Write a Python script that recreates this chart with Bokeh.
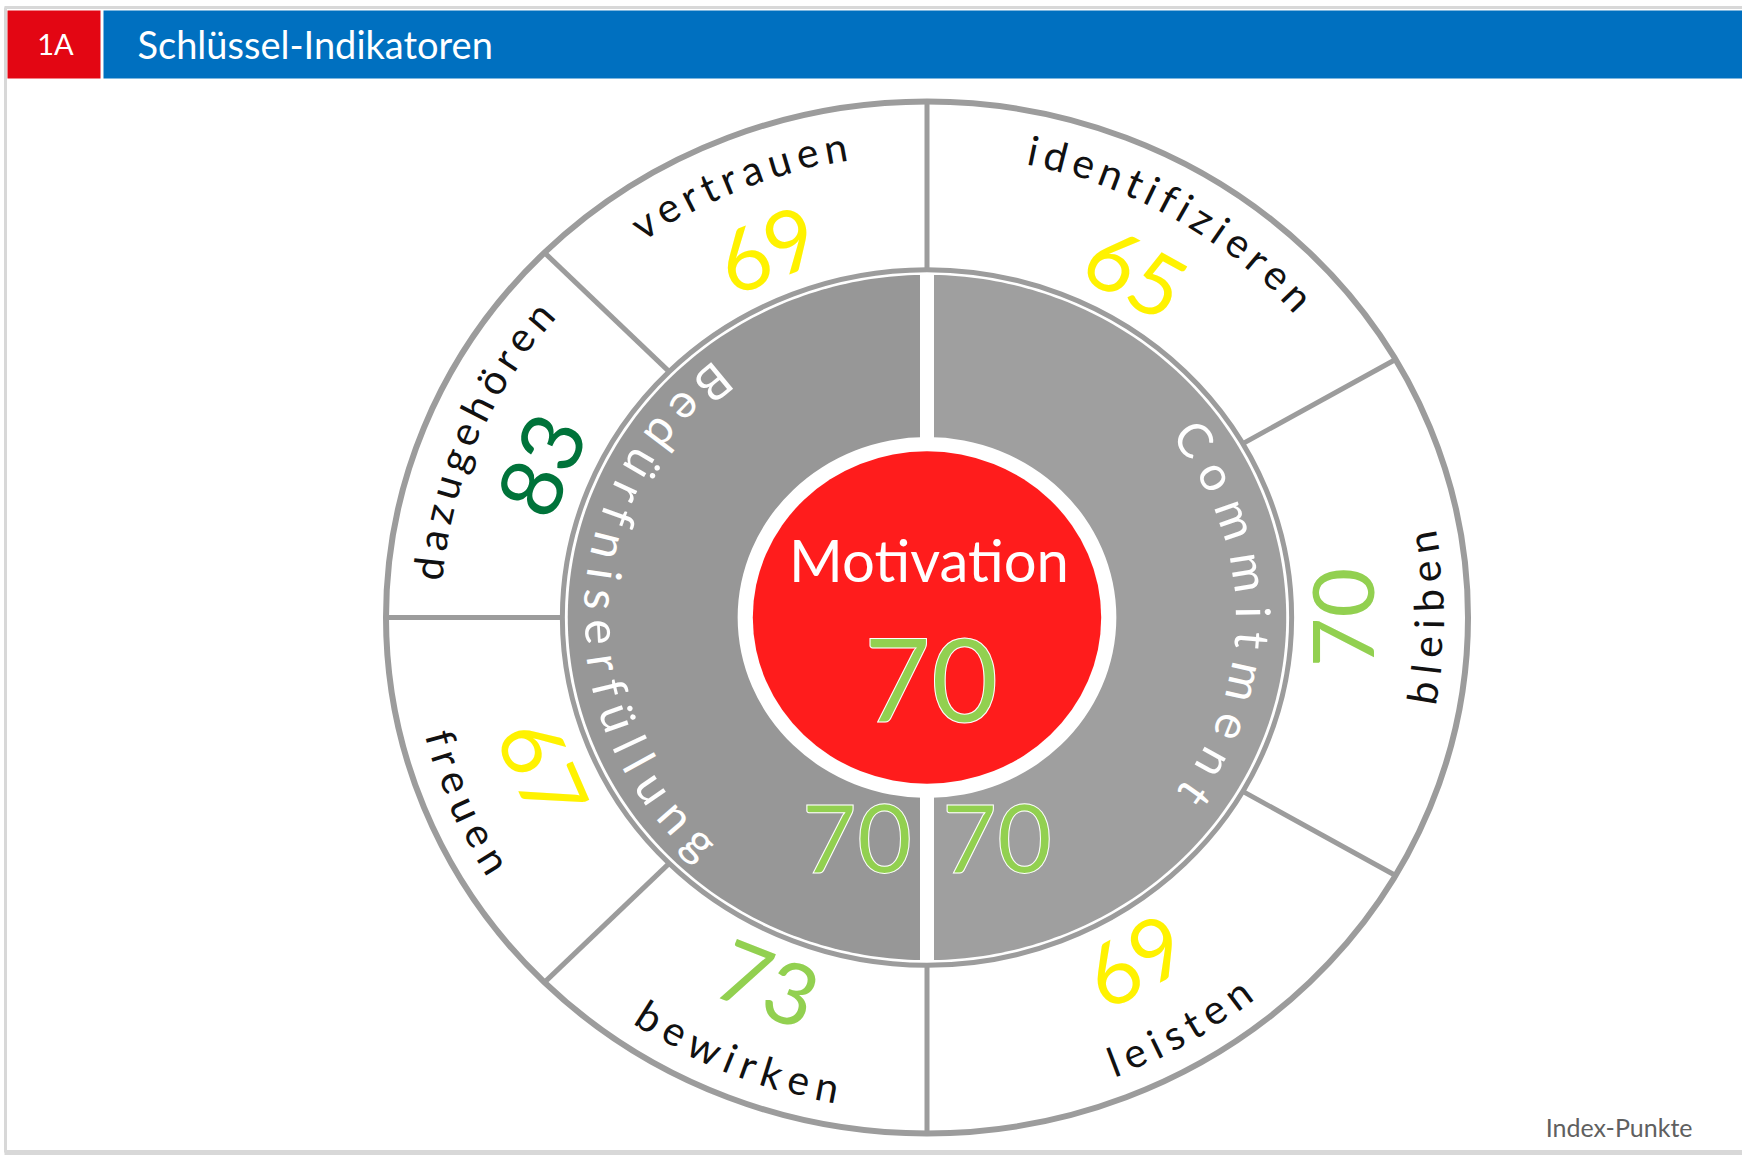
import math
import numpy as np
from bokeh.plotting import figure
from bokeh.models import ColumnDataSource, Range1d
from bokeh.core.properties import value
from bokeh.embed import file_html
from bokeh.resources import INLINE

# ---------------- data ----------------
title_tag = "1A"
title = "Schlüssel-Indikatoren"
center_label = "Motivation"
center_value = 70
groups = ["Bedürfniserfüllung", "Commitment"]
group_values = [70, 70]
left_items = ["vertrauen", "dazugehören", "freuen", "bewirken"]
left_values = [69, 83, 67, 73]
right_items = ["identifizieren", "bleiben", "leisten"]
right_values = [65, 70, 69]
unit_note = "Index-Punkte"

# ---------------- layout ----------------
W, H = 1742, 1164
CX, CY = 926.5, H - 617.0
RX, RY = 541.0, 516.0
FONT = "Lato"
GRAY_LINE = "#9C9C9C"
GRAY_LEFT = "#979797"
GRAY_RIGHT = "#9F9F9F"


def Y(yy):
    return H - yy


def value_color(v):
    if v >= 80:
        return "#00733A"
    if v >= 70:
        return "#92D050"
    return "#FFF200"


def pt(r, deg):
    t = math.radians(deg)
    return CX + r * RX * math.cos(t), CY + r * RY * math.sin(t)


def tangent_angle(deg, ccw):
    t = math.radians(deg)
    if ccw:
        return math.atan2(RY * math.cos(t), -RX * math.sin(t))
    return math.atan2(-RY * math.cos(t), RX * math.sin(t))


CW = {
    'a': .51, 'b': .56, 'c': .46, 'd': .56, 'e': .52, 'f': .32, 'g': .50, 'h': .56,
    'i': .24, 'k': .50, 'l': .24, 'm': .84, 'n': .56, 'o': .56, 'r': .36, 's': .42,
    't': .34, 'u': .56, 'v': .50, 'w': .78, 'z': .45, 'ö': .56, 'ü': .56, 'B': .62,
    'C': .66,
}


def place_arc(text, mid_deg, r, ccw, fs, track):
    ws = [CW.get(c, .5) * fs for c in text]
    steps = [(ws[i] + ws[i + 1]) / 2 + track for i in range(len(text) - 1)]
    total = sum(steps)
    sgn = 1 if ccw else -1

    def speed(deg):
        t = math.radians(deg)
        return r * math.sqrt((RX * math.sin(t)) ** 2 + (RY * math.cos(t)) ** 2)

    theta = mid_deg - sgn * math.degrees((total / 2) / speed(mid_deg))
    xs, ys, angs = [], [], []
    for i, c in enumerate(text):
        x, y = pt(r, theta)
        xs.append(x)
        ys.append(y)
        angs.append(tangent_angle(theta, ccw))
        if i < len(steps):
            theta += sgn * math.degrees(steps[i] / speed(theta))
    return xs, ys, list(text), angs


# ---------------- segments ----------------
segments = []  # (label, value, start, end)
step_l = 180.0 / len(left_items)
for k, (lab, v) in enumerate(zip(left_items, left_values)):
    segments.append((lab, v, 90 + step_l * k, 90 + step_l * (k + 1)))
step_r = 180.0 / len(right_items)
for k, (lab, v) in enumerate(zip(right_items, right_values)):
    segments.append((lab, v, 90 - step_r * k, 90 - step_r * (k + 1)))

R_OUT = 1.0
R_RING = 0.674
R_DISK = 0.664
R_WHITE = 0.350
R_RED = 0.322

p = figure(width=W, height=H, x_range=Range1d(0, W), y_range=Range1d(0, H),
           output_backend="svg", toolbar_location=None, min_border=0,
           x_axis_location=None, y_axis_location=None)
p.grid.visible = False
p.outline_line_color = None
p.background_fill_color = "white"
p.border_fill_color = "white"

# frame
FRAME = "#D8D8D8"
p.segment(x0=[4], y0=[Y(7)], x1=[W], y1=[Y(7)], line_color=FRAME, line_width=3)
p.segment(x0=[5], y0=[Y(7)], x1=[5], y1=[Y(1152)], line_color=FRAME, line_width=3)
p.segment(x0=[4], y0=[Y(1152)], x1=[W], y1=[Y(1152)], line_color=FRAME, line_width=5)

# header
p.quad(left=[7], right=[100], top=[Y(10)], bottom=[Y(78)], fill_color="#E30613", line_color=None)
p.quad(left=[103], right=[W], top=[Y(10)], bottom=[Y(78)], fill_color="#0070C0", line_color=None)
p.text(x=[55], y=[Y(43)], text=[title_tag], text_font=value(FONT), text_font_size=value("29px"),
       text_color="white", text_align="center", text_baseline="middle")
p.text(x=[137], y=[Y(43)], text=[title], text_font=value(FONT), text_font_size=value("38px"),
       text_color="white", text_align="left", text_baseline="middle")

# outer ring
p.ellipse(x=[CX], y=[CY], width=[2 * RX * R_OUT], height=[2 * RY * R_OUT],
          fill_color="white", line_color=GRAY_LINE, line_width=6)
bounds = sorted(set([s[2] % 360 for s in segments] + [s[3] % 360 for s in segments]))
x0s, y0s, x1s, y1s = [], [], [], []
for b in bounds:
    a0 = pt(R_RING, b)
    a1 = pt(R_OUT, b)
    x0s.append(a0[0]); y0s.append(a0[1]); x1s.append(a1[0]); y1s.append(a1[1])
p.segment(x0=x0s, y0=y0s, x1=x1s, y1=y1s, line_color=GRAY_LINE, line_width=5)

p.ellipse(x=[CX], y=[CY], width=[2 * RX * R_RING], height=[2 * RY * R_RING],
          fill_color="white", line_color=GRAY_LINE, line_width=5)

# inner halves
for start, end, col in [(90, 270, GRAY_LEFT), (-90, 90, GRAY_RIGHT)]:
    th = np.linspace(start, end, 181)
    xs = [CX] + [pt(R_DISK, t)[0] for t in th]
    ys = [CY] + [pt(R_DISK, t)[1] for t in th]
    p.patch(xs, ys, fill_color=col, line_color=None)

p.segment(x0=[CX], y0=[CY - RY * R_DISK - 2], x1=[CX], y1=[CY + RY * R_DISK + 2],
          line_color="white", line_width=14)

p.ellipse(x=[CX], y=[CY], width=[2 * RX * R_WHITE], height=[2 * RY * R_WHITE],
          fill_color="white", line_color=None)
p.ellipse(x=[CX], y=[CY], width=[2 * RX * R_RED], height=[2 * RY * R_RED],
          fill_color="#FF1C1C", line_color=None)

# outer labels and values
lab = dict(x=[], y=[], text=[], angle=[])
num = dict(x=[], y=[], text=[], angle=[], color=[])
for name, v, s, e in segments:
    mid = (s + e) / 2.0
    ccw = not (math.sin(math.radians(mid)) > 0.1)
    xs, ys, cs, angs = place_arc(name, mid, 0.927, ccw, 41, 7)
    lab["x"] += xs; lab["y"] += ys; lab["text"] += cs; lab["angle"] += angs
    nx, ny = pt(0.77, mid)
    num["x"].append(nx); num["y"].append(ny); num["text"].append(str(v))
    num["angle"].append(tangent_angle(mid, ccw)); num["color"].append(value_color(v))

p.text(x="x", y="y", text="text", angle="angle", source=ColumnDataSource(lab),
       text_font=value(FONT), text_font_size=value("41px"), text_color="#111111",
       text_align="center", text_baseline="middle")
p.text(x="x", y="y", text="text", angle="angle", text_color="color",
       source=ColumnDataSource(num), text_font=value(FONT), text_font_size=value("86px"),
       text_align="center", text_baseline="middle")

# inner group labels
inner = dict(x=[], y=[], text=[], angle=[])
for gname, mid, r, ccw, track in [(groups[0], 179, 0.6, True, 9.5),
                                  (groups[1], 0, 0.605, False, 14.5)]:
    xs, ys, cs, angs = place_arc(gname, mid, r, ccw, 48, track)
    inner["x"] += xs; inner["y"] += ys; inner["text"] += cs; inner["angle"] += angs
p.text(x="x", y="y", text="text", angle="angle", source=ColumnDataSource(inner),
       text_font=value(FONT), text_font_size=value("48px"), text_color="white",
       text_align="center", text_baseline="middle")

# group values
p.text(x=[CX - 15, CX + 15], y=[CY - 221, CY - 221], text=[str(v) for v in group_values],
       text_align=["right", "left"], text_baseline="middle", text_font=value(FONT),
       text_font_size=value("95px"), text_color=[value_color(v) for v in group_values],
       text_outline_color="white")

# centre
p.text(x=[CX + 2], y=[CY + 58], text=[center_label], text_font=value(FONT),
       text_font_size=value("58px"), text_color="white", text_align="center",
       text_baseline="middle")
p.text(x=[CX + 4], y=[CY - 62], text=[str(center_value)], text_font=value(FONT),
       text_font_size=value("116px"), text_color=value_color(center_value),
       text_outline_color="white", text_align="center", text_baseline="middle")

p.text(x=[1692], y=[Y(1126)], text=[unit_note], text_font=value(FONT), text_font_size=value("25px"),
       text_color="#606060", text_align="right", text_baseline="middle")

open("out.html", "w").write(file_html(p, INLINE))
